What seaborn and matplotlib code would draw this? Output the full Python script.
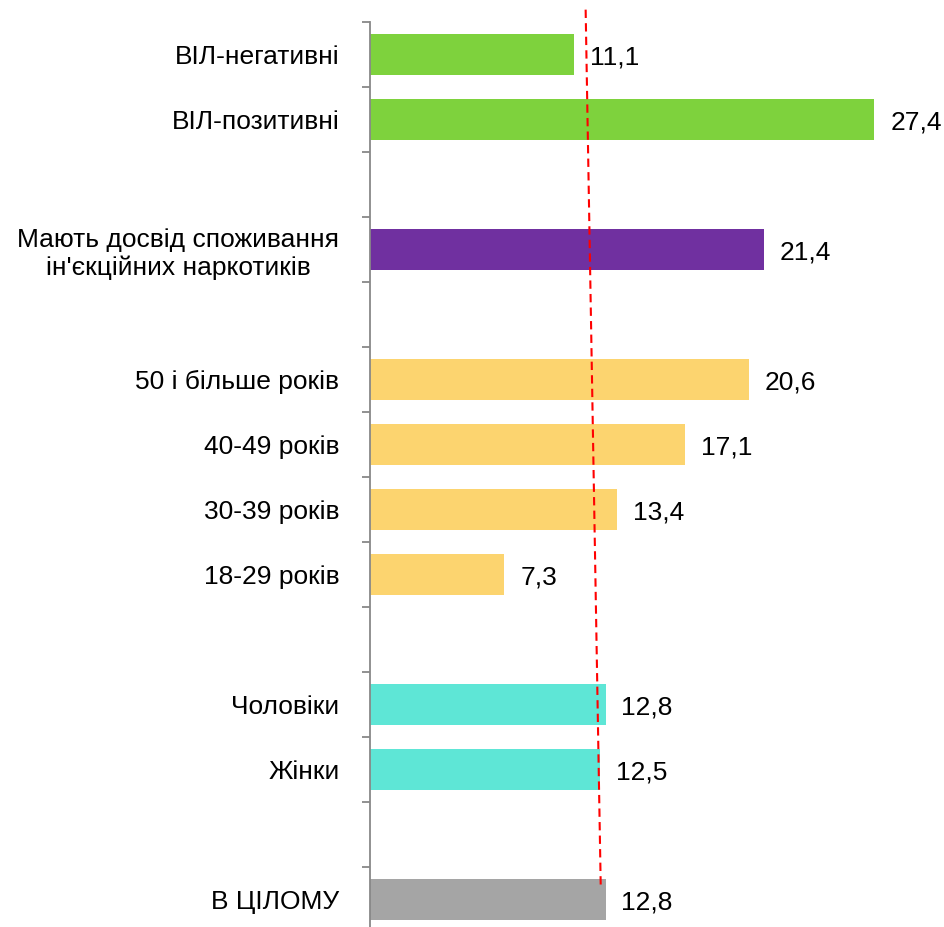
import matplotlib
matplotlib.use("Agg")
import matplotlib.pyplot as plt
import seaborn as sns
import pandas as pd
import numpy as np

# Groups of bars, top to bottom; an empty slot separates consecutive groups
group_names = ["hiv", "idu", "age", "sex", "total"]
group_labels = [
    ["ВІЛ-негативні", "ВІЛ-позитивні"],
    ["Мають досвід споживання\nін'єкційних наркотиків"],
    ["50 і більше років", "40-49 років", "30-39 років", "18-29 років"],
    ["Чоловіки", "Жінки"],
    ["В ЦІЛОМУ"],
]
group_values = [
    [11.1, 27.4],
    [21.4],
    [20.6, 17.1, 13.4, 7.3],
    [12.8, 12.5],
    [12.8],
]
group_colors = ["#7ED23D", "#7030A0", "#FCD46F", "#5EE6D6", "#A5A5A5"]

# Reference line (overall level), drawn slightly tilted as in the report
ref_x = [11.72, 12.54]
ref_y = [-0.69, 12.80]

rows = []
pos = 0
for g, labs, vals in zip(group_names, group_labels, group_values):
    for lab, v in zip(labs, vals):
        rows.append({"label": lab, "value": v, "group": g, "pos": pos})
        pos += 1
    pos += 1  # gap between groups
df = pd.DataFrame(rows)
last = int(df["pos"].max())

sns.set_theme(style="white")
plt.rcParams["font.family"] = ["Liberation Sans", "DejaVu Sans"]

FS = 19
W, H, DPI = 944, 927, 100
fig = plt.figure(figsize=(W / DPI, H / DPI), dpi=DPI)
ax_left, ax_right = 370 / W, 922 / W
ax_top, ax_bottom = 22 / H, 927 / H
ax = fig.add_axes([ax_left, 1 - ax_bottom, ax_right - ax_left, ax_bottom - ax_top])

sns.barplot(
    data=df, x="value", y="pos", hue="group", palette=dict(zip(group_names, group_colors)),
    orient="h", native_scale=True, width=0.63, dodge=False, legend=False, ax=ax,
    saturation=1, edgecolor="none",
)

ax.set_xlim(0, 30)
ax.set_ylim(last + 0.42, -0.5)

for _, r in df.iterrows():
    ax.annotate(f"{r.value:.1f}".replace(".", ","), (r.value, r.pos),
                xytext=(11.5, 0), textcoords="offset points",
                ha="left", va="center_baseline", fontsize=FS, color="black")

ax.plot(ref_x, ref_y, color="#FF0000", lw=1.5, ls=(0, (4, 2.5)), clip_on=False, zorder=5)
ax.set_ylim(last + 0.42, -0.5)

# axis styling
for s in ["top", "right", "bottom"]:
    ax.spines[s].set_visible(False)
ax.spines["left"].set_color("#888888")
ax.spines["left"].set_linewidth(1.3)
ax.set_xticks([])
ax.set_xlabel("")
ax.set_ylabel("")

ax.set_yticks(df["pos"].tolist())
ax.set_yticklabels(df["label"].tolist(), fontsize=FS, color="black", multialignment="center")
ax.tick_params(axis="y", which="major", length=0, pad=22)
ax.set_yticks(np.arange(-0.5, last, 1.0), minor=True)
ax.tick_params(axis="y", which="minor", length=5.8, width=1.3, color="#888888", direction="out", left=True)

fig.savefig("out.png", dpi=DPI)
